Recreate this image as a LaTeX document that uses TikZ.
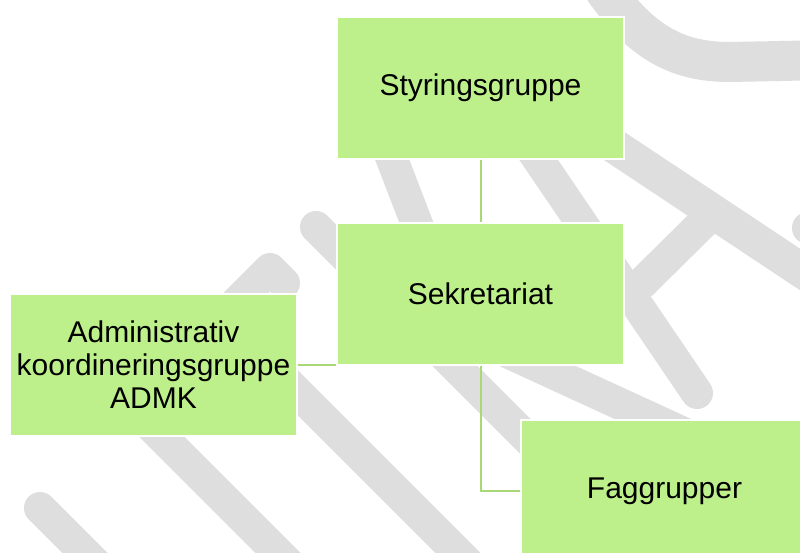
\documentclass[tikz,border=0pt]{standalone}
\usepackage{fontspec}
\setmainfont{Liberation Sans}
\definecolor{boksgronn}{HTML}{BDF08A}
\definecolor{strekgronn}{HTML}{A8D878}
\definecolor{merkegraa}{HTML}{DEDEDE}
\begin{document}
\begin{tikzpicture}[
       x=0.75pt,
       y=-0.75pt,
       boks/.style={
         rectangle,
         fill=boksgronn,
         draw=white,
         line width=1.2pt,
         minimum width=215pt,
         minimum height=106.5pt,
         align=center,
         font=\fontsize{22.5}{24.75}\selectfont
       },
       strek/.style={
         draw=strekgronn,
         line width=1.5pt
       },
       merke/.style={
         draw=merkegraa,
         line width=24pt,
         line cap=round,
         line join=round
       }
     ]

       \useasboundingbox (0,0) rectangle (800,553);
       \clip (0,0) rectangle (800,553);
       \fill[white] (0,0) rectangle (800,553);

       \path[merke, line width=30pt] (598,-20) .. controls (640,45) and (680,62) .. (730,62) -- (830,60);
       \path[merke] (808,228) -- (860,262);
       \path[merke, line width=26pt] (560,110) -- (840,296);
       \path[merke] (712,214) -- (632,293);
       \path[merke] (500,103) -- (697,393);
       \path[merke] (375,115) -- (450,310);
       \path[merke] (420,312) -- (740,459);
       \path[merke] (316,227) -- (680,591);
       \path[merke] (240,335) -- (490,585);
       \path[merke] (40,508) -- (110,578);
       \path[merke] (284,283) -- (270,269) -- (132,407) -- (310,585);

       \node (styr) at (480.5,88) [boks]{Styringsgruppe};
       \node (sekr) at (480.5,294) [boks]{Sekretariat};
       \node (admk) at (153.5,365) [boks]{Administrativ\\koordineringsgruppe\\ADMK};
       \node (fag) at (664.5,491) [boks]{Faggrupper};

       \draw[strek] (styr) -- (sekr);
       \draw[strek] (admk.east) -- (admk.east -| sekr.west);
       \draw[strek] (sekr.south) |- (fag.west);

\end{tikzpicture}
\end{document}
